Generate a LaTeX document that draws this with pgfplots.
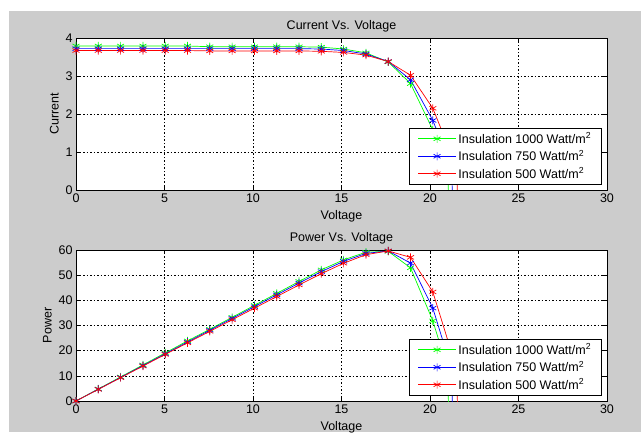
\documentclass[border=0pt]{standalone}
\usepackage{fontspec}
\setmainfont{Liberation Sans}
\usepackage{pgfplots}
\usepackage{pgfplotstable}
\pgfplotsset{compat=1.18}
\definecolor{mgray}{RGB}{204,204,204}
\definecolor{mgreen}{RGB}{0,255,0}
\definecolor{mblue}{RGB}{0,0,255}
\definecolor{mred}{RGB}{255,0,0}

\pgfplotstableread{
x I P
0 3.79 0
1.26 3.79 4.78
2.52 3.79 9.55
3.78 3.79 14.33
5.04 3.79 19.10
6.30 3.79 23.88
7.56 3.77 28.50
8.82 3.77 33.25
10.08 3.77 38.00
11.34 3.77 42.75
12.60 3.77 47.50
13.86 3.76 52.11
15.12 3.71 56.10
16.38 3.61 59.13
17.64 3.37 59.45
18.90 2.80 52.92
20.16 1.58 31.85
21.00 0.60 12.60
21.10 -1.00 -20.00
}\tgreen

\pgfplotstableread{
x I P
0 3.72 0
1.26 3.72 4.69
2.52 3.72 9.37
3.78 3.72 14.06
5.04 3.72 18.75
6.30 3.72 23.44
7.56 3.72 28.12
8.82 3.72 32.81
10.08 3.72 37.50
11.34 3.72 42.18
12.60 3.72 46.87
13.86 3.71 51.42
15.12 3.67 55.49
16.38 3.58 58.64
17.64 3.38 59.62
18.90 2.90 54.81
20.16 1.83 36.89
21.22 0.60 12.73
21.32 -1.00 -20.00
}\tblue

\pgfplotstableread{
x I P
0 3.67 0
1.26 3.67 4.62
2.52 3.67 9.25
3.78 3.67 13.87
5.04 3.67 18.50
6.30 3.67 23.12
7.56 3.66 27.67
8.82 3.66 32.28
10.08 3.66 36.89
11.34 3.66 41.50
12.60 3.66 46.12
13.86 3.65 50.59
15.12 3.62 54.73
16.38 3.55 58.15
17.64 3.38 59.62
18.90 3.02 57.08
20.16 2.15 43.34
21.50 0.60 12.90
21.62 -1.00 -20.00
}\tred

\newcommand{\fs}{\fontsize{12.5}{14}\selectfont}

\pgfplotsset{
  mystyle/.style={
    scale only axis,
    xmin=0, xmax=30,
    xtick={0,5,...,30},
    grid=major,
    major grid style={black, dash pattern=on 1.5pt off 2pt, line width=0.4pt},
    axis background/.style={fill=white},
    tick align=inside,
    major tick length=4pt,
    axis line style={black, line width=0.6pt},
    tick style={black, line width=0.5pt},
    ticklabel style={font=\fs},
    label style={font=\fs},
    xlabel style={yshift=-1pt},
    title style={font=\fs, yshift=-4pt},
    /pgf/number format/assume math mode=true,
    legend style={at={(1,0)}, anchor=south east, xshift=-5pt, yshift=5pt,
      draw=black, fill=white, font=\fs, row sep=1.5pt, inner xsep=8.5pt, inner ysep=3pt,
      line width=0.6pt},
    legend cell align=left,
    legend image code/.code={
      \draw[mark repeat=2, mark phase=2] plot coordinates {(0pt,0pt) (19pt,0pt) (38pt,0pt)};
    },
    every axis plot/.append style={line width=0.7pt, mark=asterisk, mark size=4pt},
    clip=true,
  }
}

\begin{document}
\begin{tikzpicture}[x=1pt,y=1pt]
\path[use as bounding box] (0,0) rectangle (641,432);
\fill[mgray] (9,0) rectangle (641,421);

\begin{axis}[mystyle, at={(76pt,242pt)}, anchor=south west,
  width=531pt, height=152pt,
  ymin=0, ymax=4, ytick={0,1,2,3,4},
  title={Current Vs. Voltage}, xlabel={Voltage}, ylabel={Current}]
\addplot[mgreen] table[x=x,y=I]{\tgreen};
\addplot[mblue] table[x=x,y=I]{\tblue};
\addplot[mred] table[x=x,y=I]{\tred};
\legend{Insulation 1000 Watt/m\textsuperscript{2}, Insulation 750 Watt/m\textsuperscript{2}, Insulation 500 Watt/m\textsuperscript{2}}
\end{axis}

\begin{axis}[mystyle, at={(76pt,31pt)}, anchor=south west,
  width=531pt, height=151pt,
  ymin=0, ymax=60, ytick={0,10,...,60},
  title={Power Vs. Voltage}, xlabel={Voltage}, ylabel={Power}]
\addplot[mgreen] table[x=x,y=P]{\tgreen};
\addplot[mblue] table[x=x,y=P]{\tblue};
\addplot[mred] table[x=x,y=P]{\tred};
\legend{Insulation 1000 Watt/m\textsuperscript{2}, Insulation 750 Watt/m\textsuperscript{2}, Insulation 500 Watt/m\textsuperscript{2}}
\end{axis}
\end{tikzpicture}
\end{document}
